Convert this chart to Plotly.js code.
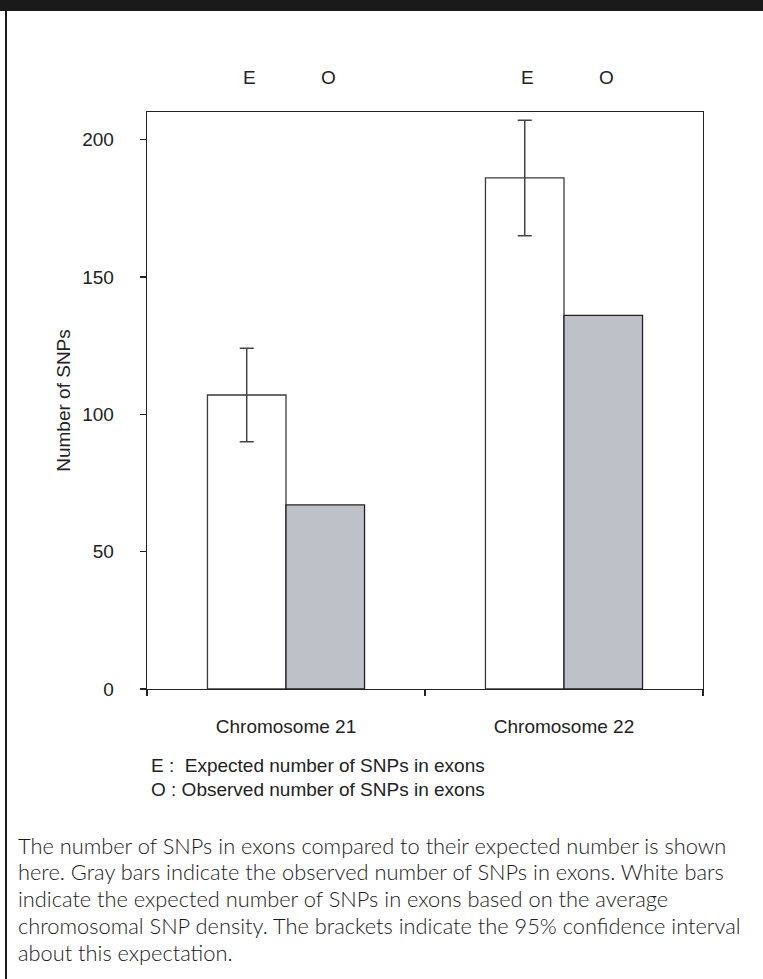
<!DOCTYPE html>
<html>
<head>
<meta charset="utf-8">
<script src="https://cdn.plot.ly/plotly-3.0.1.min.js"></script>
<style>
  html, body { margin: 0; padding: 0; background: #ffffff; }
  #chart { width: 763px; height: 979px; }
</style>
</head>
<body>
<div id="chart"></div>
<script>
// ---- data ----
const categories = ['Chromosome 21', 'Chromosome 22'];
const expected = [107, 186];
const observed = [67, 136];
const ciUpper = [124, 207];
const ciLower = [90, 165];
const yTicks = [0, 50, 100, 150, 200];
const seriesLetters = ['E', 'O'];
const legendLines = [
  'E :  Expected number of SNPs in exons',
  'O : Observed number of SNPs in exons'
];
const captionLines = [
  'The number of SNPs in exons compared to their expected number is shown',
  'here. Gray bars indicate the observed number of SNPs in exons. White bars',
  'indicate the expected number of SNPs in exons based on the average',
  'chromosomal SNP density. The brackets indicate the 95% confidence interval',
  'about this expectation.'
];

// ---- layout geometry (pixels) ----
const W = 763, H = 979;
const M = { l: 147, r: 60, t: 112, b: 290 };
const plotW = W - M.l - M.r, plotH = H - M.t - M.b;
const px = x => (x - M.l) / plotW;          // pixel x -> paper x
const py = y => (H - M.b - y) / plotH;      // pixel y -> paper y
const bargap = 0.435;

const chartFont = 'Liberation Sans, Arial, Helvetica, sans-serif';
const ink = '#222222';

const errPlus = expected.map((v, i) => ciUpper[i] - v);
const errMinus = expected.map((v, i) => v - ciLower[i]);

const traces = [
  {
    type: 'bar', name: 'Expected', x: categories, y: expected,
    marker: { color: '#ffffff', line: { color: '#3a3a3a', width: 1.3 } },
    error_y: { type: 'data', symmetric: false, array: errPlus, arrayminus: errMinus,
               color: '#444444', thickness: 1.5, width: 7 },
    hoverinfo: 'x+y'
  },
  {
    type: 'bar', name: 'Observed', x: categories, y: observed,
    marker: { color: '#bfc1c8', line: { color: '#222222', width: 1.3 } },
    hoverinfo: 'x+y'
  }
];

const annotations = [];
// E / O letters above each bar
const half = (1 - bargap) / 4;
categories.forEach((c, i) => {
  seriesLetters.forEach((s, k) => {
    annotations.push({
      text: s, xref: 'x', yref: 'paper',
      x: i + (k === 0 ? -half : half), y: py(77), xshift: 3,
      showarrow: false, xanchor: 'center', yanchor: 'middle',
      font: { family: chartFont, size: 19, color: ink }
    });
  });
});
// key lines
legendLines.forEach((t, i) => {
  annotations.push({
    text: t, xref: 'paper', yref: 'paper', x: px(149), y: py(765 + i * 24),
    showarrow: false, xanchor: 'left', yanchor: 'middle', align: 'left',
    font: { family: chartFont, size: 19, color: ink }
  });
});
// caption
captionLines.forEach((t, i) => {
  annotations.push({
    text: t, xref: 'paper', yref: 'paper', x: px(16), y: py(845 + i * 26.8),
    showarrow: false, xanchor: 'left', yanchor: 'middle', align: 'left',
    font: { family: 'Lato, "Open Sans", sans-serif', size: 21.8, color: '#1a1a1a', weight: 300 }
  });
});

const shapes = [
  // black band at top
  { type: 'rect', xref: 'paper', yref: 'paper', x0: px(0), x1: px(W), y0: py(11), y1: py(0),
    fillcolor: '#1a1a1a', line: { width: 0 } },
  // left frame line
  { type: 'line', xref: 'paper', yref: 'paper', x0: px(6), x1: px(6), y0: py(H), y1: py(11),
    line: { color: '#1a1a1a', width: 2 } }
];

const layout = {
  width: W, height: H,
  margin: M,
  paper_bgcolor: '#ffffff', plot_bgcolor: '#ffffff',
  showlegend: false,
  barmode: 'group', bargap: bargap, bargroupgap: 0,
  font: { family: chartFont, size: 19, color: ink },
  xaxis: {
    type: 'category', showline: true, mirror: true, linecolor: ink, linewidth: 1.3,
    ticks: 'outside', tickson: 'boundaries', ticklen: 6, tickcolor: ink, tickwidth: 1.3,
    showgrid: false, zeroline: false, ticklabelstandoff: 20,
    tickfont: { family: chartFont, size: 19, color: ink }
  },
  yaxis: {
    range: [0, 210], tickvals: yTicks, ticktext: yTicks.map(String),
    showline: true, mirror: true, linecolor: ink, linewidth: 1.3,
    ticks: 'outside', ticklen: 6, tickcolor: ink, tickwidth: 1.3,
    showgrid: false, zeroline: false, ticklabelstandoff: 22,
    tickfont: { family: chartFont, size: 19, color: ink },
    title: { text: 'Number of SNPs', standoff: 6, font: { family: chartFont, size: 19, color: ink } }
  },
  annotations: annotations,
  shapes: shapes
};

Plotly.newPlot('chart', traces, layout, { displayModeBar: false, staticPlot: true });
</script>
</body>
</html>
